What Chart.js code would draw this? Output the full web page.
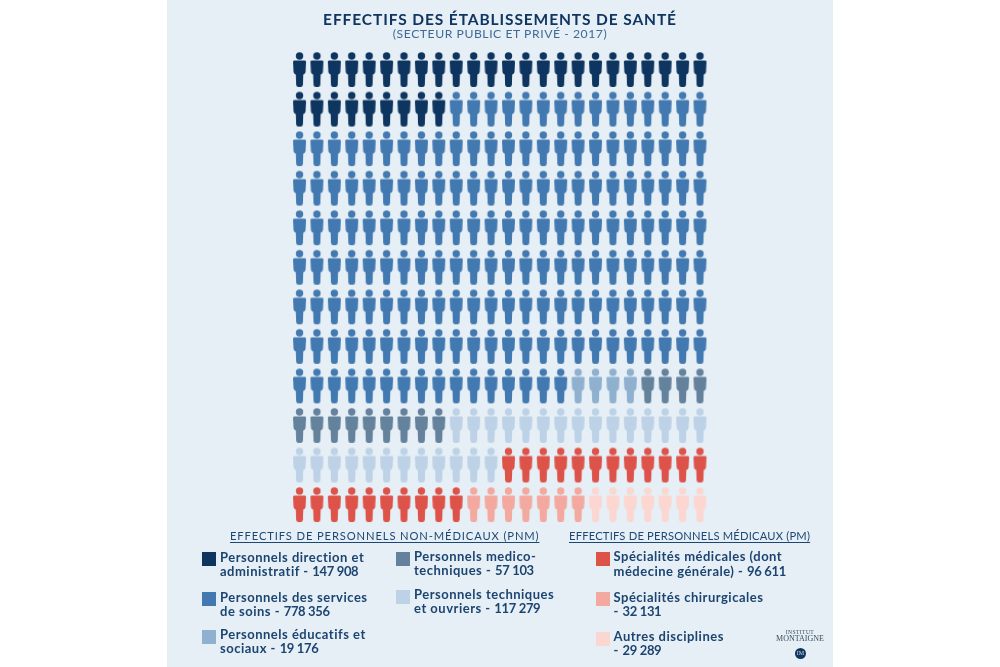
<!DOCTYPE html>
<html lang="fr">
<head>
<meta charset="utf-8">
<title>Effectifs des établissements de santé</title>
<script src="https://cdn.jsdelivr.net/npm/chart.js@4"></script>
<style>
html,body{margin:0;padding:0;background:#fff;width:1000px;height:667px;overflow:hidden}
#panel{position:absolute;left:167px;top:0;width:666px;height:667px;background:#e6eff6}
#wrap{position:absolute;left:0;top:0;width:1000px;height:667px}
.t{position:absolute;white-space:nowrap;color:#123a66;font-family:Lato,sans-serif}
#title{left:167px;width:666px;text-align:center;top:10px;font-size:15.5px;line-height:19px;font-weight:700;letter-spacing:.9px;color:#0f3560}
#sub{left:167px;width:666px;text-align:center;top:26px;font-size:12.2px;line-height:16px;letter-spacing:.55px;color:#3f6a96}
.h{font-size:11.2px;line-height:14px;text-decoration:underline;text-underline-offset:2px;color:#1c4773}
.l{font-size:13px;line-height:14.4px;font-weight:700;letter-spacing:.5px;color:#1c4470}
.l span{letter-spacing:-.35px}
.s{position:absolute;width:13.5px;height:13.5px}
.logo{font-family:"Liberation Serif",serif;color:#3a4a5c;text-align:center;width:60px;left:770px}
#dot{position:absolute;left:795px;top:648px;width:11px;height:11px;border-radius:50%;background:#0f3560;color:#cfdbe8;font:6px/11px "Liberation Serif",serif;text-align:center}
</style>
</head>
<body>
<div id="panel"></div>
<div id="wrap"><canvas id="c" width="1000" height="667"></canvas></div>
<script>
const titleText = "EFFECTIFS DES ÉTABLISSEMENTS DE SANTÉ";
const subtitleText = "(SECTEUR PUBLIC ET PRIVÉ - 2017)";
const groupHeadings = ["EFFECTIFS DE PERSONNELS NON-MÉDICAUX (PNM)", "EFFECTIFS DE PERSONNELS MÉDICAUX (PM)"];
const categories = [
  ["Personnels direction et", "administratif - ", "147 908"],
  ["Personnels des services", "de soins - ", "778 356"],
  ["Personnels éducatifs et", "sociaux - ", "19 176"],
  ["Personnels medico-", "techniques - ", "57 103"],
  ["Personnels techniques", "et ouvriers - ", "117 279"],
  ["Spécialités médicales (dont", "médecine générale) - ", "96 611"],
  ["Spécialités chirurgicales", "- ", "32 131"],
  ["Autres disciplines", "- ", "29 289"]
];
const figures = [33, 175, 4, 13, 27, 22, 7, 7];
const colors = ["#0d3560", "#4279b0", "#8fb0cf", "#65829c", "#bdd2e6", "#dd5349", "#f3a99f", "#fcd6d0"];
const perRow = 24;
const rowCount = 12;

function person(color) {
  const c = document.createElement("canvas");
  c.width = 15; c.height = 37;
  const g = c.getContext("2d");
  g.fillStyle = color;
  g.beginPath(); g.arc(7.5, 5, 3.7, 0, Math.PI * 2); g.fill();
  g.beginPath();
  g.moveTo(2.4, 9.6);
  g.lineTo(12.6, 9.6);
  g.quadraticCurveTo(14, 9.6, 14, 11);
  g.lineTo(13.5, 21);
  g.quadraticCurveTo(13.2, 22.8, 11.6, 23.2);
  g.lineTo(11.2, 24);
  g.lineTo(10.9, 33.8);
  g.quadraticCurveTo(10.7, 36, 8.6, 36);
  g.lineTo(6.4, 36);
  g.quadraticCurveTo(4.3, 36, 4.1, 33.8);
  g.lineTo(3.8, 24);
  g.lineTo(3.4, 23.2);
  g.quadraticCurveTo(1.8, 22.8, 1.5, 21);
  g.lineTo(1, 11);
  g.quadraticCurveTo(1, 9.6, 2.4, 9.6);
  g.closePath();
  g.fill();
  return c;
}

let cursor = 0;
const datasets = figures.map((n, i) => {
  const data = [];
  for (let k = 0; k < n; k++, cursor++) {
    data.push({ x: cursor % perRow, y: Math.floor(cursor / perRow) });
  }
  return { label: categories[i].join(""), data, pointStyle: person(colors[i]), pointRadius: 6, backgroundColor: colors[i] };
});

new Chart(document.getElementById("c"), {
  type: "scatter",
  data: { datasets },
  options: {
    responsive: false,
    animation: false,
    devicePixelRatio: 1,
    layout: { padding: { left: 290.8, right: 291.3, top: 49.7, bottom: 142.7 } },
    plugins: { legend: { display: false }, tooltip: { enabled: false }, title: { display: false } },
    scales: {
      x: { type: "linear", min: -0.5, max: perRow - 0.5, display: false },
      y: { type: "linear", min: -0.5, max: rowCount - 0.5, reverse: true, display: false }
    }
  }
});

function addText(cls, text, left, top, id) {
  const d = document.createElement("div");
  d.className = "t " + cls;
  if (id) d.id = id;
  d.textContent = text;
  if (left !== null) d.style.left = left + "px";
  if (top !== null) d.style.top = top + "px";
  document.body.appendChild(d);
  return d;
}
addText("", titleText, null, null, "title");
addText("", subtitleText, null, null, "sub");
addText("h", groupHeadings[0], 230, 529).style.letterSpacing = ".88px";
addText("h", groupHeadings[1], 569, 529).style.letterSpacing = ".2px";

const legendBoxes = [[202, 552, 220, 549.6], [202, 592, 220, 589.8], [202, 630, 220, 627], [396, 552, 414, 549], [396, 590, 414, 587], [596, 552, 613.5, 549.4], [596, 592, 613.5, 589.6], [596, 632, 613.5, 629]];
legendBoxes.forEach((b, i) => {
  const s = document.createElement("div");
  s.className = "s";
  s.style.cssText = "left:" + b[0] + "px;top:" + b[1] + "px;background:" + colors[i];
  document.body.appendChild(s);
  const d = addText("l", "", b[2], b[3]);
  d.innerHTML = categories[i][0] + "<br>" + categories[i][1] + "<span>" + categories[i][2] + "</span>";
});
const a = addText("logo", "INSTITUT", null, 629); a.style.fontSize = "5.6px"; a.style.letterSpacing = ".4px";
const b = addText("logo", "MONTAIGNE", null, 634); b.style.fontSize = "8px";
const dot = document.createElement("div"); dot.id = "dot"; dot.textContent = "IM"; document.body.appendChild(dot);
</script>
</body>
</html>
